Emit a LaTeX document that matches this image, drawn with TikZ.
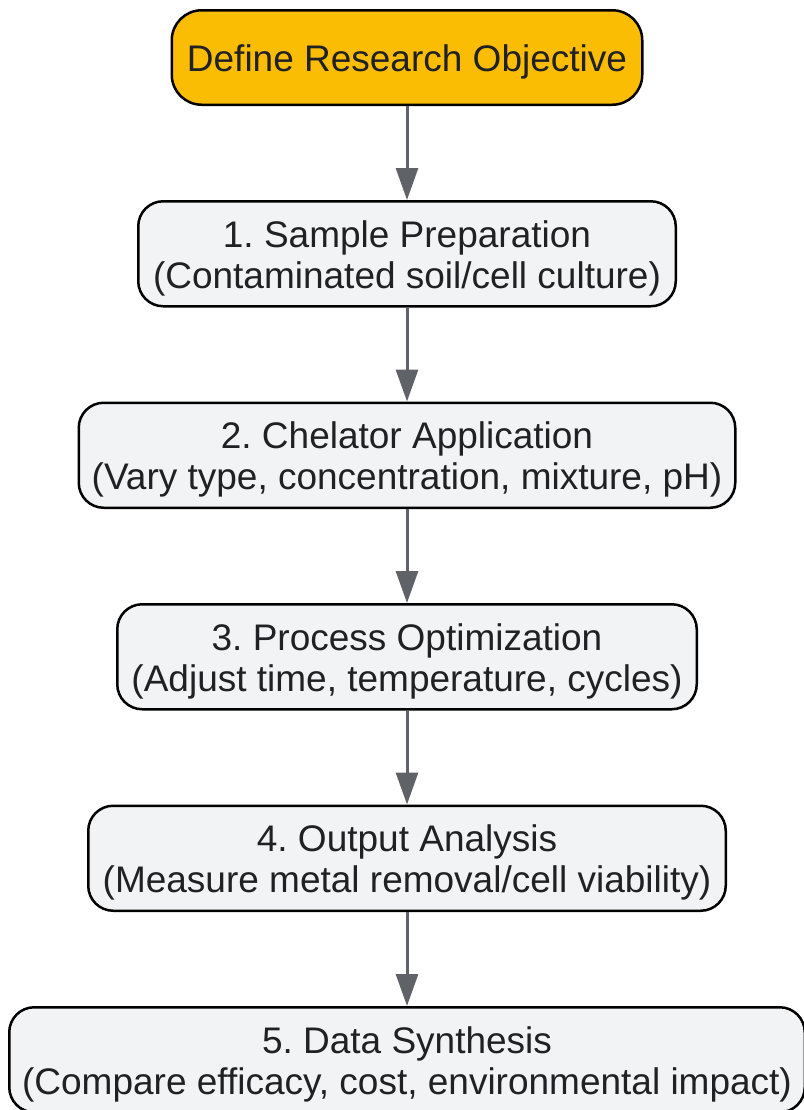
\documentclass[tikz,border=0pt]{standalone}
\usepackage{fontspec}
\setmainfont{Liberation Sans}
\usetikzlibrary{positioning,arrows.meta}
\definecolor{objyellow}{HTML}{FBBC04}
\definecolor{stepgray}{HTML}{F1F3F4}
\definecolor{arrowgray}{HTML}{5F6368}
\definecolor{textdark}{HTML}{202124}
\newcommand{\lift}{\rule{0pt}{18pt}}
\frenchspacing

\begin{document}
\begin{tikzpicture}[x=0.5pt,y=-0.5pt]
\tikzstyle{every node}+=[inner sep=0pt, font=\fontsize{18.5}{20.5}\selectfont, text=textdark, align=center]
\tikzstyle{stepbox}=[draw=black, line width=1.25pt, fill=stepgray, rounded corners=12.5pt, minimum height=52.5pt]
\tikzstyle{flow}=[draw=arrowgray, line width=1.5pt, -{Triangle[length=16pt,width=11pt]}]
\useasboundingbox (0,0) rectangle (804,1110);
\node [stepbox, fill=objyellow, minimum width=235.25pt, minimum height=47.25pt, rounded corners=15pt] (obj) at (407,57.5) {\lift Define Research Objective};
\node [stepbox, minimum width=268.75pt, below=47pt of obj] (prep) {\lift 1. Sample Preparation\\(Contaminated soil/cell culture)};
\node [stepbox, minimum width=328.25pt, below=47pt of prep] (chel) {\lift 2. Chelator Application\\(Vary type, concentration, mixture, pH)};
\node [stepbox, minimum width=289.75pt, below=47pt of chel] (opt) {\lift 3. Process Optimization\\(Adjust time, temperature, cycles)};
\node [stepbox, minimum width=318.75pt, below=47pt of opt] (anal) {\lift 4. Output Analysis\\(Measure metal removal/cell viability)};
\node [stepbox, minimum width=397.75pt, below=47pt of anal] (synth) {\lift 5. Data Synthesis\\(Compare efficacy, cost, environmental impact)};
% arrows
\draw [flow] (obj) -- (prep);
\draw [flow] (prep) -- (chel);
\draw [flow] (chel) -- (opt);
\draw [flow] (opt) -- (anal);
\draw [flow] (anal) -- (synth);
\end{tikzpicture}
\end{document}
